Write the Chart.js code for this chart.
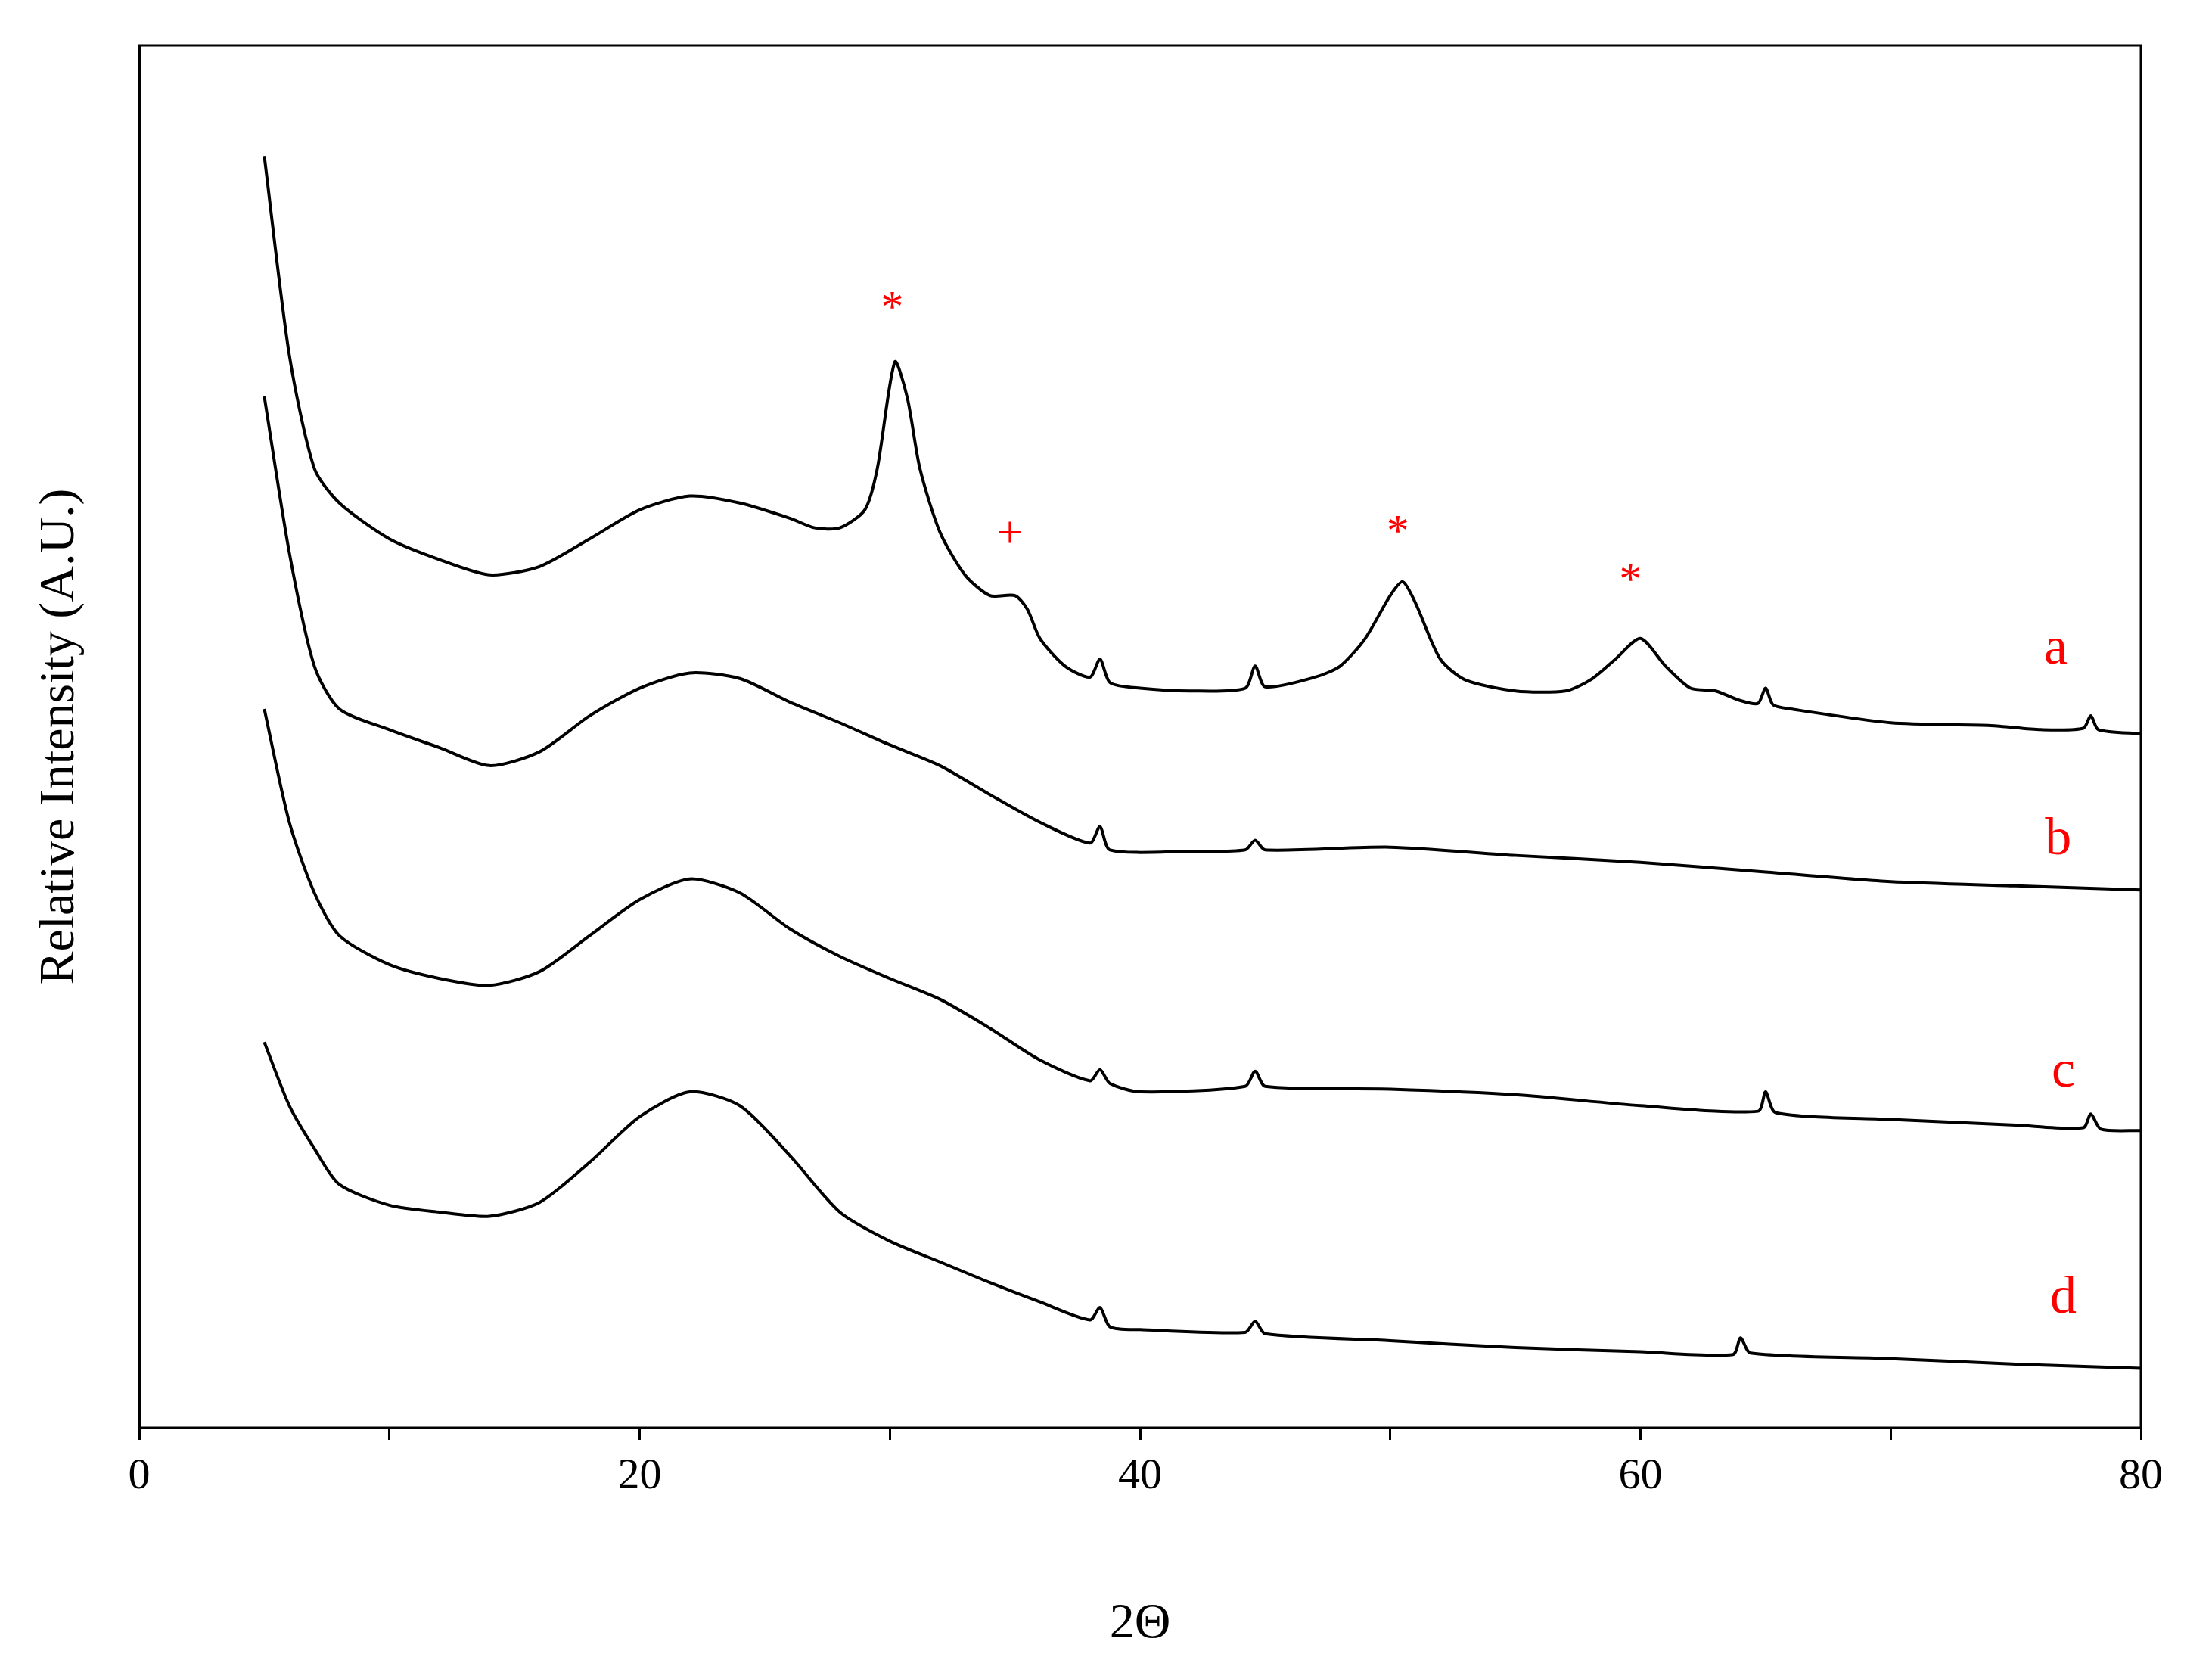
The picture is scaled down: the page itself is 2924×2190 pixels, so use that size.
<!DOCTYPE html>
<html>
<head>
<meta charset="utf-8">
<script src="https://cdn.jsdelivr.net/npm/chart.js@4"></script>
<style>
  html, body { margin: 0; padding: 0; background: #fff; }
  #wrap { width: 2924px; height: 2190px; }
</style>
</head>
<body>
<div id="wrap"><canvas id="chart"></canvas></div>
<script>
// 2-theta positions and relative intensities (arbitrary units, offset per curve)
const xA = [5, 6, 7, 8, 10, 12, 14, 16, 18, 20, 22, 24, 26, 27, 28, 29, 29.5, 30.2, 30.7, 31.2, 32, 33, 34, 35, 35.5, 36, 37, 38, 38.4, 38.8, 40, 42, 44.2, 44.6, 45, 47, 48, 49, 50, 50.5, 51, 52, 53, 55, 57, 58, 59, 60, 61, 62, 63, 64, 64.7, 65, 65.3, 66, 70, 74, 76, 77.7, 78, 78.3, 80];
const yA = [92, 77.6, 69.4, 66.9, 64.3, 62.8, 61.7, 62.3, 64.3, 66.4, 67.4, 66.9, 65.8, 65.1, 65.1, 66.4, 69.4, 77.1, 74.5, 69.4, 64.8, 61.7, 60.2, 60.2, 59.2, 57.1, 55.1, 54.3, 55.6, 53.9, 53.5, 53.3, 53.5, 55.1, 53.6, 54.3, 55.1, 57.1, 60.2, 61.2, 59.7, 55.6, 54.1, 53.3, 53.3, 54.1, 55.6, 57.1, 55.1, 53.5, 53.3, 52.6, 52.4, 53.5, 52.3, 52, 51, 50.8, 50.5, 50.6, 51.5, 50.5, 50.2];

const xB = [5, 6, 7, 8, 10, 12, 14, 16, 18, 20, 22, 24, 26, 28, 30, 32, 34, 36, 38, 38.4, 38.8, 42, 44.2, 44.6, 45, 50, 55, 60, 65, 70, 75, 80];
const yB = [74.6, 63.3, 55.1, 52, 50.5, 49.2, 47.9, 48.9, 51.5, 53.5, 54.6, 54.2, 52.5, 51, 49.4, 47.9, 45.8, 43.8, 42.3, 43.5, 41.8, 41.7, 41.8, 42.5, 41.8, 42, 41.4, 40.9, 40.2, 39.5, 39.2, 38.9];

const xC = [5, 6, 7, 8, 10, 12, 14, 16, 18, 20, 22, 24, 26, 28, 30, 32, 34, 36, 38, 38.4, 38.8, 40, 44.2, 44.6, 45, 50, 55, 60, 64.7, 65, 65.4, 70, 75, 77.7, 78, 78.4, 80];
const yC = [52, 43.8, 38.7, 35.6, 33.5, 32.5, 32, 33, 35.6, 38.2, 39.7, 38.7, 36.1, 34.1, 32.5, 31, 28.9, 26.6, 25.1, 25.9, 24.9, 24.3, 24.7, 25.8, 24.7, 24.5, 24.1, 23.3, 22.9, 24.3, 22.8, 22.3, 21.9, 21.7, 22.7, 21.6, 21.5];

const xD = [5, 6, 7, 8, 10, 12, 14, 16, 18, 20, 22, 24, 26, 28, 30, 32, 34, 36, 38, 38.4, 38.8, 40, 44.2, 44.6, 45, 50, 55, 60, 63.7, 64, 64.4, 70, 75, 80];
const yD = [27.9, 23.3, 20.2, 17.6, 16.1, 15.6, 15.3, 16.3, 19.2, 22.5, 24.3, 23.3, 19.7, 15.6, 13.5, 12, 10.5, 9.1, 7.8, 8.7, 7.3, 7.1, 6.9, 7.7, 6.8, 6.3, 5.8, 5.5, 5.3, 6.5, 5.4, 5, 4.6, 4.3];

// curve letters and peak markers (data coordinates)
const curveLabels = ["a", "b", "c", "d"];
const labelX = [76.6, 76.7, 76.9, 76.9];
const labelY = [56.3, 42.5, 25.7, 9.3];
const markText = ["*", "+", "*", "*"];
const markX = [30.1, 34.8, 50.3, 59.6];
const markY = [80.9, 64.6, 64.7, 61.2];

function pts(xs, ys) { return xs.map((x, i) => ({ x: x, y: ys[i] })); }

const annotate = {
  id: "annotate",
  afterDraw(c) {
    const ctx = c.ctx, xs = c.scales.x, ys = c.scales.y, a = c.chartArea;
    ctx.save();
    ctx.strokeStyle = "#000";
    ctx.lineWidth = 3;
    ctx.strokeRect(a.left, a.top, a.right - a.left, a.bottom - a.top);
    ctx.fillStyle = "#ff0000";
    ctx.textAlign = "center";
    ctx.textBaseline = "middle";
    ctx.font = "70px 'Liberation Serif'";
    curveLabels.forEach((t, i) => ctx.fillText(t, xs.getPixelForValue(labelX[i]), ys.getPixelForValue(labelY[i])));
    ctx.font = "60px 'Liberation Serif'";
    markText.forEach((t, i) => ctx.fillText(t, xs.getPixelForValue(markX[i]), ys.getPixelForValue(markY[i])));
    ctx.restore();
  }
};

const series = [[xA, yA], [xB, yB], [xC, yC], [xD, yD]];

new Chart(document.getElementById("chart"), {
  type: "line",
  data: {
    datasets: series.map(s => ({
      data: pts(s[0], s[1]),
      borderColor: "#000",
      borderWidth: 4,
      pointRadius: 0,
      tension: 0.25,
      fill: false
    }))
  },
  options: {
    responsive: true,
    maintainAspectRatio: false,
    animation: false,
    layout: { padding: { top: 60, right: 94, left: 0, bottom: 0 } },
    plugins: { legend: { display: false }, tooltip: { enabled: false } },
    scales: {
      x: {
        type: "linear",
        min: 0, max: 80,
        afterFit: s => { s.height = 303; },
        border: { color: "#000", width: 3 },
        grid: { drawOnChartArea: false, color: "#000", lineWidth: 3, tickLength: 16 },
        ticks: {
          stepSize: 10,
          color: "#000",
          font: { family: "Liberation Serif", size: 58 },
          padding: 14,
          callback: v => (v % 20 === 0 ? v : "")
        },
        title: {
          display: true, text: "2Θ", color: "#000",
          font: { family: "Liberation Serif", size: 66 },
          padding: { top: 40 }
        }
      },
      y: {
        min: 0, max: 100,
        afterFit: s => { s.width = 184; },
        border: { color: "#000", width: 3 },
        grid: { display: false },
        ticks: { display: false },
        title: {
          display: true, text: "Relative Intensity (A.U.)", color: "#000",
          font: { family: "Liberation Serif", size: 66 },
          padding: { top: 40, bottom: 10 }
        }
      }
    }
  },
  plugins: [annotate]
});
</script>
</body>
</html>
